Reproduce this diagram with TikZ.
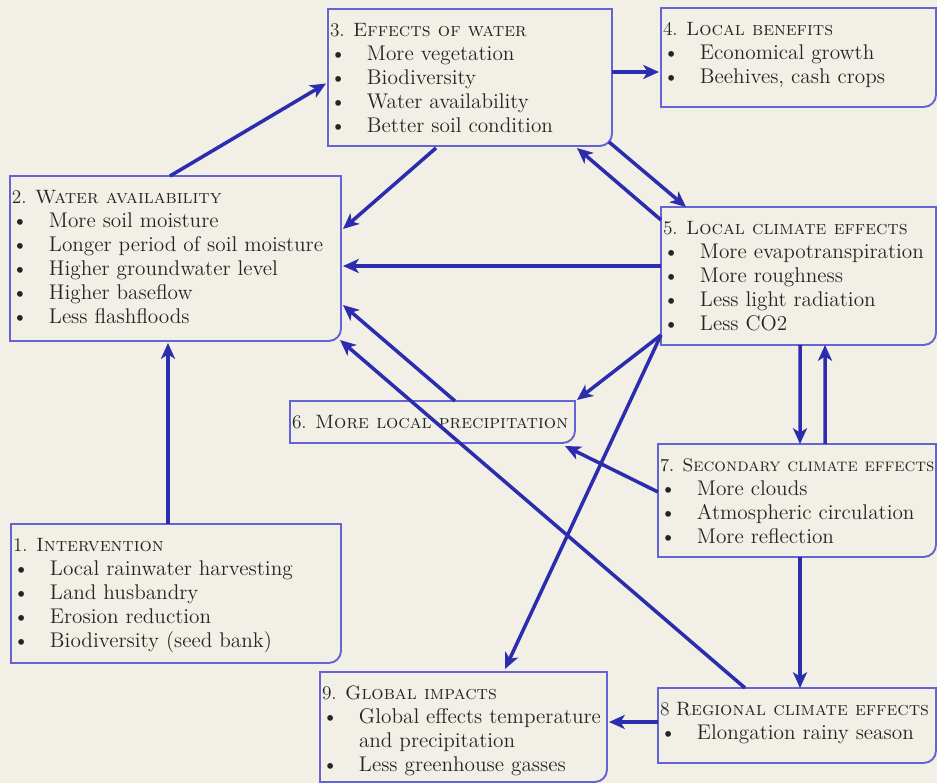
\documentclass[tikz,border=0pt]{standalone}
\usepackage{tikz}
\usetikzlibrary{calc,arrows.meta}
\definecolor{fond}{HTML}{F2F0E6}
\definecolor{cadre}{HTML}{6464D2}
\definecolor{trait}{HTML}{2C2CAE}
\definecolor{encre}{HTML}{242424}
\newlength{\pxl}
\setlength{\pxl}{0.02cm}
\newcommand{\card}[3]{\parbox[c][#2\pxl][t]{#1\pxl}{\leftskip=2\pxl\relax #3}}
\newcommand{\ttl}[1]{\rule{0pt}{15.8pt}\mbox{\fontsize{11}{13.6}\selectfont #1}\par}
\newcommand{\itm}[1]{\makebox[37\pxl][l]{\textbullet}#1\par}
\newcommand{\cnt}[1]{\hspace*{37\pxl}#1\par}
\newcommand{\cadrer}[1]{%
  \draw[cadre,line width=1.1pt] (#1.north west) -- (#1.north east)
    -- ([yshift=7pt]#1.south east) arc[start angle=0,end angle=-90,radius=7pt]
    -- (#1.south west) -- cycle;}

\begin{document}
\begin{tikzpicture}[x=0.02cm,y=-0.02cm,
  boite/.style={
    anchor=north west,
    inner sep=0pt,
    outer sep=0pt,
    text=encre,
    font=\fontsize{12.1}{13.6}\selectfont},
  lien/.style={->,line width=2pt,draw=trait},
  >={Stealth[length=9pt,width=8pt,inset=2.5pt]}]
  \fill[fond] (0,0) rectangle (937,783);
  \useasboundingbox (0,0) rectangle (937,783);

  \coordinate (C1) at (11,524);
  \coordinate (C2) at (10,176);
  \coordinate (C3) at (328,9);
  \coordinate (C4) at (661,8);
  \coordinate (C5) at (661,207);
  \coordinate (C6) at (290,401);
  \coordinate (C7) at (658,444);
  \coordinate (C8) at (658,688);
  \coordinate (C9) at (320,672);

  \node[boite] at (C1) (b1) {\card{330}{139}{%
    \ttl{1. \textsc{Intervention}}
    \itm{Local rainwater harvesting}
    \itm{Land husbandry}
    \itm{Erosion reduction}
    \itm{Biodiversity (seed bank)}}};
  \node[boite] at (C2) (b2) {\card{331}{165}{%
    \ttl{2. \textsc{Water availability}}
    \itm{More soil moisture}
    \itm{Longer period of soil moisture}
    \itm{Higher groundwater level}
    \itm{Higher baseflow}
    \itm{Less flashfloods}}};
  \node[boite] at (C3) (b3) {\card{284}{137}{%
    \ttl{3. \textsc{Effects of water}}
    \itm{More vegetation}
    \itm{Biodiversity}
    \itm{Water availability}
    \itm{Better soil condition}}};
  \node[boite] at (C4) (b4) {\card{275}{99}{%
    \ttl{4. \textsc{Local benefits}}
    \itm{Economical growth}
    \itm{Beehives, cash crops}}};
  \node[boite] at (C5) (b5) {\card{275}{138}{%
    \ttl{5. \textsc{Local climate effects}}
    \itm{More evapotranspiration}
    \itm{More roughness}
    \itm{Less light radiation}
    \itm{Less CO2}}};
  \node[boite] at (C6) (b6) {\card{285}{42}{%
    \ttl{6. \textsc{More local precipitation}}}};
  \node[boite] at (C7) (b7) {\card{278}{113}{%
    \ttl{\fontsize{10.4}{13.6}\selectfont 7. \textsc{Secondary climate effects}}
    \itm{More clouds}
    \itm{Atmospheric circulation}
    \itm{More reflection}}};
  \node[boite] at (C8) (b8) {\card{278}{75}{%
    \ttl{8 \textsc{Regional climate effects}}
    \itm{Elongation rainy season}}};
  \node[boite] at (C9) (b9) {\card{287}{110}{%
    \ttl{9. \textsc{Global impacts}}
    \itm{Global effects temperature}
    \cnt{and precipitation}
    \itm{Less greenhouse gasses}}};

  \cadrer{b1}
  \cadrer{b2}
  \cadrer{b3}
  \cadrer{b4}
  \cadrer{b5}
  \cadrer{b6}
  \cadrer{b7}
  \cadrer{b8}
  \cadrer{b9}

  \draw[lien] ($(b1.north)+(-8,0)$) -- ($(b2.south)+(-7.5,2)$);
  \draw[lien] ($(b2.north)+(-5.5,0)$) -- ($(b3.west)+(-2,6)$);
  \draw[lien] ($(b3.east)+(0,-5.5)$) -- ($(b4.west)+(-2,14.5)$);
  \draw[lien] ($(b3.south)+(-34,2)$) -- ($(b2.east)+(2,-29.5)$);
  \draw[lien] ($(b3.south east)+(-3,-4)$) -- ($(b5.north west)+(25,0)$);
  \draw[lien] ($(b5.north west)+(0,13)$) -- ($(b3.south east)+(-35,2)$);
  \draw[lien] ($(b5.west)+(0,-10)$) -- ($(b2.east)+(2,7.5)$);
  \draw[lien] ($(b5.south west)+(0,-10)$) -- ($(b6.north east)+(2,-1)$);
  \draw[lien] ($(b5.south west)+(0,-10)$) -- ($(b9.north)+(41.5,-3)$);
  \draw[lien] ($(b5.south)+(1.5,0)$) -- ($(b7.north)+(3,0)$);
  \draw[lien] ($(b7.north)+(28,0)$) -- ($(b5.south)+(26.5,0)$);
  \draw[lien] ($(b7.west)+(0,-8.5)$) -- ($(b6.south east)+(-10,3)$);
  \draw[lien] ($(b6.north)+(22.5,0)$) -- ($(b2.east)+(2,46.5)$);
  \draw[lien] ($(b8.north)+(-52,0)$) -- ($(b2.south east)+(-1,-1)$);
  \draw[lien] ($(b7.south)+(3,0)$) -- ($(b8.north)+(3,0)$);
  \draw[lien] ($(b8.west)+(0,-3.5)$) -- ($(b9.east)+(2,-5)$);
\end{tikzpicture}
\end{document}
